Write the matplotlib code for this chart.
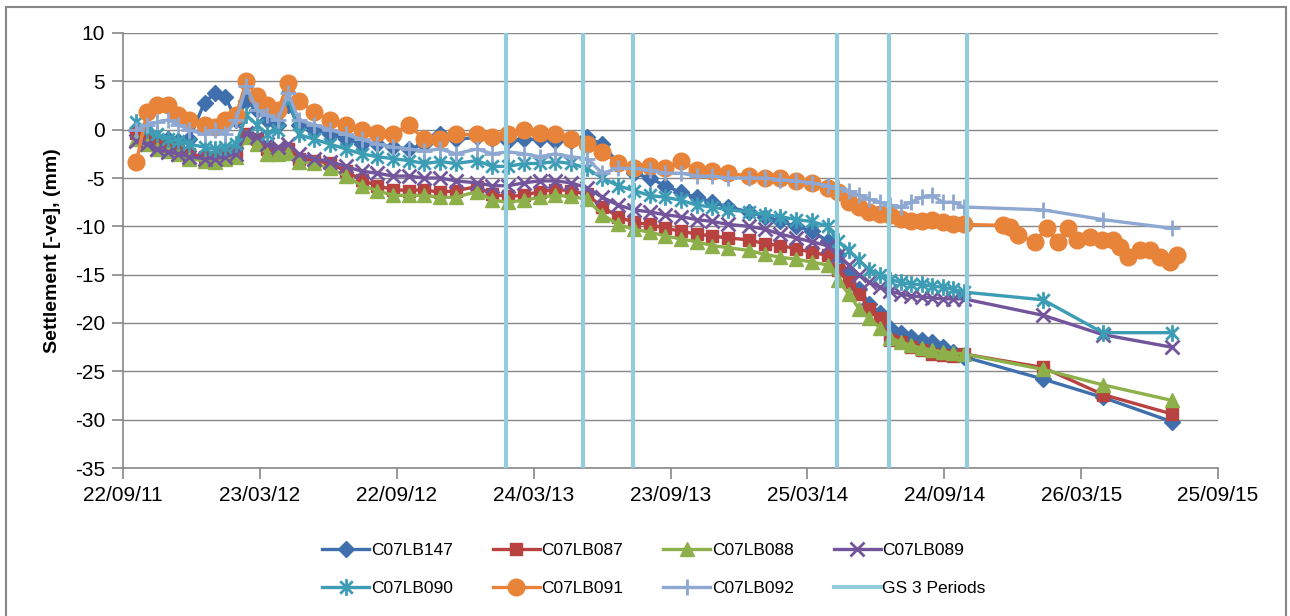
import numpy as np
import matplotlib
matplotlib.use('Agg')
import matplotlib.pyplot as plt
import matplotlib.dates as mdates
from matplotlib.path import Path
from matplotlib.patches import Rectangle
from matplotlib.lines import Line2D

plt.rcParams['font.family'] = ['Liberation Sans', 'DejaVu Sans']
plt.rcParams['axes.unicode_minus'] = False

# survey dates shared by all points up to Oct 2014
dates = ['2011-10-10', '2011-10-24', '2011-11-07', '2011-11-21', '2011-12-05', '2011-12-19',
         '2012-01-09', '2012-01-23', '2012-02-06', '2012-02-20', '2012-03-05', '2012-03-19',
         '2012-04-02', '2012-04-16', '2012-04-30', '2012-05-14', '2012-06-04', '2012-06-25',
         '2012-07-16', '2012-08-06', '2012-08-27', '2012-09-17', '2012-10-08', '2012-10-29',
         '2012-11-19', '2012-12-10', '2013-01-07', '2013-01-28', '2013-02-18', '2013-03-11',
         '2013-04-01', '2013-04-22', '2013-05-13', '2013-06-03', '2013-06-24', '2013-07-15',
         '2013-08-05', '2013-08-26', '2013-09-16', '2013-10-07', '2013-10-28', '2013-11-18',
         '2013-12-09', '2014-01-06', '2014-01-27', '2014-02-17', '2014-03-10', '2014-03-31',
         '2014-04-21', '2014-05-05', '2014-05-19', '2014-06-02', '2014-06-16', '2014-06-30',
         '2014-07-14', '2014-07-28', '2014-08-11', '2014-08-25', '2014-09-08', '2014-09-22',
         '2014-10-06', '2014-10-20']
late_dates = ['2015-02-03', '2015-04-24', '2015-07-25']

lb147 = [0.0, -0.5, -1.0, -1.0, -1.2, -1.0, 2.8, 3.8, 3.4, 1.0, 3.0, 2.0,
         1.0, 0.5, 2.5, 0.5, 0.0, -0.5, -1.0, -1.5, -1.5, -1.8, -2.0, -1.5,
         -0.5, -1.0, -0.8, -1.0, -1.2, -1.0, -1.0, -1.2, -1.2, -0.8, -1.5, -3.5,
         -4.5, -5.0, -5.8, -6.5, -7.0, -7.5, -8.0, -8.5, -9.0, -9.5, -10.0, -10.5,
         -11.5, -13.0, -15.0, -16.5, -18.0, -19.0, -20.5, -21.0, -21.4, -21.8, -22.0, -22.5,
         -23.0, -23.5, -25.8, -27.7, -30.2]
lb087 = [-0.3, -1.0, -1.5, -1.8, -2.2, -2.5, -2.8, -2.8, -2.5, -2.3, -0.5, -1.0,
         -2.0, -2.2, -2.0, -3.0, -3.2, -3.5, -4.3, -5.2, -5.8, -6.2, -6.3, -6.2,
         -6.5, -6.3, -5.9, -6.7, -6.9, -6.8, -6.4, -6.2, -6.3, -6.7, -8.0, -9.0,
         -9.6, -9.8, -10.2, -10.5, -10.8, -11.0, -11.2, -11.4, -11.8, -12.0, -12.3, -12.7,
         -13.0, -14.5, -15.8, -17.0, -18.5, -19.5, -21.8, -22.0, -22.5, -22.8, -23.2, -23.3,
         -23.4, -23.2, -24.6, -27.4, -29.4]
lb088 = [-1.0, -1.5, -2.0, -2.2, -2.5, -3.0, -3.2, -3.3, -3.0, -2.8, -0.8, -1.5,
         -2.5, -2.5, -2.4, -3.3, -3.5, -4.0, -4.8, -5.8, -6.3, -6.8, -6.8, -6.8,
         -7.0, -7.0, -6.4, -7.3, -7.5, -7.3, -7.0, -6.8, -6.9, -7.2, -8.8, -9.8,
         -10.3, -10.6, -11.0, -11.3, -11.6, -12.0, -12.2, -12.5, -12.9, -13.2, -13.4, -13.7,
         -14.0, -15.5, -17.0, -18.5, -19.5, -20.5, -21.5, -22.0, -22.3, -22.6, -22.8, -23.0,
         -23.1, -23.2, -24.8, -26.4, -28.0]
lb089 = [-1.2, -1.5, -2.0, -2.3, -2.5, -2.8, -3.0, -3.0, -2.8, -2.5, -0.3, -0.8,
         -1.5, -1.8, -1.5, -2.5, -3.0, -3.3, -3.8, -4.3, -4.5, -4.8, -4.8, -5.0,
         -5.0, -5.3, -5.5, -5.8, -5.8, -5.5, -5.3, -5.3, -5.5, -6.0, -7.0, -7.8,
         -8.3, -8.5, -8.8, -9.0, -9.3, -9.5, -9.8, -10.0, -10.3, -10.8, -11.2, -11.6,
         -12.0, -13.0, -14.0, -15.0, -15.8, -16.3, -16.7, -17.0, -17.2, -17.3, -17.4, -17.5,
         -17.5, -17.5, -19.2, -21.2, -22.5]
lb090 = [0.8, 0.0, -0.5, -1.0, -1.2, -1.5, -1.8, -2.0, -1.8, -1.5, 1.5, 0.5,
         -0.5, 0.0, 3.5, -0.5, -1.0, -1.5, -2.0, -2.5, -2.8, -3.0, -3.2, -3.5,
         -3.3, -3.5, -3.2, -3.8, -3.8, -3.5, -3.5, -3.3, -3.5, -4.0, -5.0, -5.8,
         -6.3, -6.8, -7.0, -7.3, -7.8, -8.0, -8.3, -8.5, -8.8, -9.0, -9.3, -9.5,
         -10.0, -11.5, -12.5, -13.5, -14.5, -15.0, -15.5, -15.8, -16.0, -16.0, -16.2, -16.3,
         -16.5, -16.8, -17.6, -21.0, -21.0]
lb092 = [0.0, 0.5, 0.8, 1.0, 0.5, 0.0, -0.5, 0.0, -0.5, 1.0, 4.5, 2.0,
         1.5, 1.0, 3.8, 1.0, 0.5, 0.0, -0.5, -1.0, -1.5, -1.8, -2.0, -2.2,
         -2.0, -2.5, -2.0, -2.5, -2.3, -2.5, -2.8, -2.5, -2.8, -3.0, -4.5, -4.0,
         -4.0, -4.2, -4.5, -4.5, -4.8, -4.8, -5.0, -5.0, -5.0, -5.2, -5.3, -5.5,
         -5.8, -6.0, -6.3, -6.8, -7.2, -7.5, -7.8, -8.0, -7.5, -7.0, -6.8, -7.5,
         -7.5, -8.0, -8.3, -9.3, -10.2]

# C07LB091 was read more often after Oct 2014
lb091_dates = ['2014-12-12', '2014-12-21', '2015-01-01', '2015-01-23', '2015-02-08', '2015-02-23',
               '2015-03-08', '2015-03-20', '2015-04-07', '2015-04-23', '2015-05-08', '2015-05-17',
               '2015-05-28', '2015-06-13', '2015-06-26', '2015-07-09', '2015-07-23', '2015-08-01']
lb091 = [-3.3, 1.8, 2.5, 2.5, 1.5, 1.0, 0.5, 0.3, 1.0, 1.5, 5.0, 3.5,
         2.5, 2.0, 4.8, 3.0, 1.8, 1.0, 0.5, 0.0, -0.3, -0.5, 0.5, -1.0,
         -1.0, -0.5, -0.5, -0.8, -0.5, 0.0, -0.3, -0.5, -1.0, -1.5, -2.3, -3.5,
         -4.0, -3.8, -4.0, -3.2, -4.2, -4.3, -4.5, -4.8, -5.0, -5.0, -5.3, -5.5,
         -6.0, -6.5, -7.5, -8.0, -8.5, -8.7, -8.8, -9.2, -9.5, -9.5, -9.3, -9.6,
         -9.8, -9.8,
         -9.9, -10.1, -10.9, -11.6, -10.2, -11.6, -10.2, -11.4, -11.1, -11.4, -11.4, -12.1,
         -13.2, -12.4, -12.4, -13.2, -13.7, -13.0]

gs3_dates = ['2013-02-15', '2013-05-29', '2013-08-04', '2014-05-03', '2014-07-12', '2014-10-24']

t = np.array(dates + late_dates, dtype='datetime64[D]')
t91 = np.array(dates + lb091_dates, dtype='datetime64[D]')
gs3 = np.array(gs3_dates, dtype='datetime64[D]')

star = Path([(0, -1), (0, 1), (-0.75, -0.75), (0.75, 0.75), (-0.75, 0.75), (0.75, -0.75)],
            [Path.MOVETO, Path.LINETO] * 3)

series = [
    ('C07LB147', t, lb147, '#3F70AD', 'D', 8, 1),
    ('C07LB087', t, lb087, '#B8423F', 's', 9, 1),
    ('C07LB088', t, lb088, '#8DB04A', '^', 10, 1),
    ('C07LB089', t, lb089, '#73559C', 'x', 10, 2),
    ('C07LB090', t, lb090, '#3C9DB5', star, 12, 2),
    ('C07LB091', t91, lb091, '#E8843A', 'o', 12, 1),
    ('C07LB092', t, lb092, '#8EA8D2', '+', 12, 2),
]

fig = plt.figure(figsize=(12.9, 6.16), dpi=100)
ax = fig.add_axes([123 / 1290, 1 - 468 / 616, 1095 / 1290, 435 / 616])

handles = []
for name, x, y, col, mk, ms, mew in series:
    h, = ax.plot(x, y, color=col, lw=2.4, marker=mk, ms=ms, mew=mew,
                 mec=col, mfc=col, label=name)
    handles.append(h)

gs_col = '#93CDDD'
for d in gs3:
    ax.axvline(d, color=gs_col, lw=3, zorder=5)
handles.append(Line2D([], [], color=gs_col, lw=3, label='GS 3 Periods'))

x0 = np.datetime64('2011-09-22')
xticks = x0 + np.arange(9) * 183
ax.set_xlim(xticks[0], xticks[-1])
ax.set_xticks(xticks)
ax.xaxis.set_major_formatter(mdates.DateFormatter('%d/%m/%y'))
ax.set_ylim(-35, 10)
ax.set_yticks(np.arange(-35, 11, 5))

grey = '#878787'
ax.grid(axis='y', color=grey, lw=1)
ax.set_axisbelow(True)
for s in ['top', 'right']:
    ax.spines[s].set_visible(False)
for s in ['left', 'bottom']:
    ax.spines[s].set_color(grey)
    ax.spines[s].set_linewidth(1.2)
ax.tick_params(direction='out', length=8, color=grey, width=1.2, labelsize=15, pad=5)
ax.set_ylabel('Settlement [-ve], (mm)', fontsize=14, fontweight='bold', labelpad=10)

# legend filled row by row, as in the original
order = [0, 4, 1, 5, 2, 6, 3, 7]
fig.legend(handles=[handles[i] for i in order], loc='center', bbox_to_anchor=(0.507, 0.076),
           ncol=4, frameon=False, fontsize=12.5, handlelength=2.7, handletextpad=0.1,
           columnspacing=2.3, labelspacing=1.3)

fig.patches.append(Rectangle((6 / 1290, -0.02), 1280 / 1290, 1.02 - 7 / 616,
                             transform=fig.transFigure, fill=False, ec=grey, lw=1.5))

fig.savefig('out.png', dpi=100)
